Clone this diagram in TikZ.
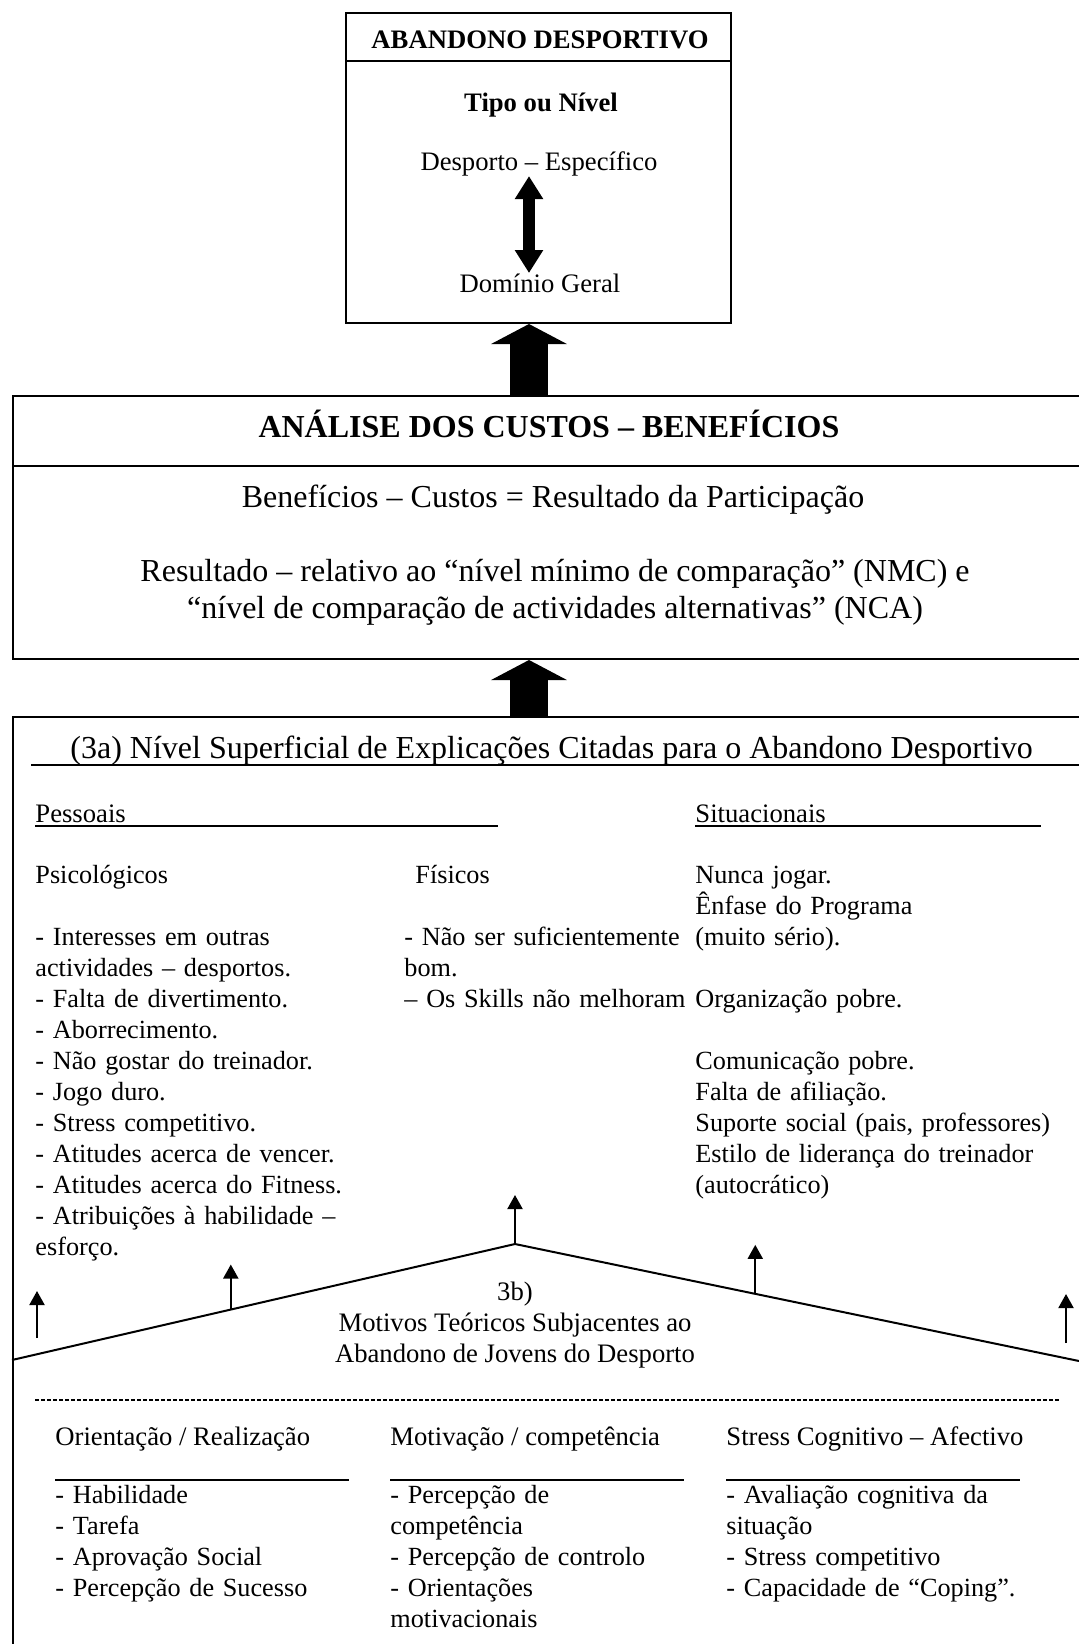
\documentclass[tikz,border=0pt]{standalone}
\usepackage{fontspec}
\setmainfont{Liberation Serif}
\usepackage{tikz}
\usetikzlibrary{arrows.meta,calc}

\tikzset{
  frame/.style={line width=0.9pt},
  rule/.style={line width=0.7pt},
  lbl/.style={inner sep=0pt,font=\fontsize{12}{13.95}\selectfont},
  lblb/.style={inner sep=0pt,font=\fontsize{12}{13.95}\selectfont\bfseries},
  big/.style={inner sep=0pt,font=\fontsize{14.4}{16.5}\selectfont},
  bigb/.style={inner sep=0pt,font=\fontsize{14.4}{16.5}\selectfont\bfseries},
  col/.style={inner sep=0pt,font=\fontsize{11.8}{13.95}\selectfont,anchor=base west,align=left,text width=300pt},
  fatarrow/.style={line width=17.1pt,-{Triangle[width=33.75pt,length=9pt]}},
  dblarrow/.style={line width=5.4pt,{Triangle[width=12.15pt,length=10.35pt]}-{Triangle[width=12.15pt,length=10.35pt]}},
  uparrow/.style={line width=0.9pt,-{Triangle[width=6.75pt,length=6.3pt]}},
}

\begin{document}
\begin{tikzpicture}[x=0.45pt,y=-0.45pt]
    \useasboundingbox (0,0) rectangle (1079,1644);
    \clip (0,0) rectangle (1079,1644);
    \coordinate (axis) at (529,0);
    % top box
    \node[draw,frame,minimum width=173.25pt,minimum height=139.5pt] (abandono) at (538.5,168) {};
    \draw[frame] (abandono.west |- 0,61) -- (abandono.east |- 0,61);
    \node[lblb,anchor=base] (titulo) at (540,49) {ABANDONO DESPORTIVO};
    \node[lblb,anchor=base] (tipo) at (541,111) {Tipo ou Nível};
    \node[lbl,anchor=base] (especifico) at (539,170) {Desporto – Específico};
    \node[lbl,anchor=base] (geral) at (540,292) {Domínio Geral};
    \draw[dblarrow] (axis |- especifico.south) -- (axis |- geral.north);
    % cost-benefit box
    \node[draw,frame,anchor=north west,minimum width=489.6pt,minimum height=118.35pt] (custos) at (12,395) {};
    \draw[frame] (custos.west |- 0,466) -- (custos.east |- 0,466);
    \draw[fatarrow] (axis |- custos.north) -- (axis |- abandono.south);
    \node[bigb,anchor=base] (analise) at (549,437) {ANÁLISE DOS CUSTOS – BENEFÍCIOS};
    \node[big,anchor=base] (formula) at (553,507) {Benefícios – Custos = Resultado da Participação};
    \node[big,anchor=base,align=center] (resultado) at (555,618) {Resultado – relativo ao “nível mínimo de comparação” (NMC) e\\“nível de comparação de actividades alternativas” (NCA)};
    % explanations box
    \node[draw,frame,anchor=north west,minimum width=489.6pt,minimum height=442.8pt] (explica) at (12,716) {};
    \draw[fatarrow] (axis |- explica.north) -- (axis |- custos.south);
    \node[big,anchor=base west] (nivel) at (70,758) {(3a) Nível Superficial de Explicações Citadas para o Abandono Desportivo};
    \draw[rule] (31,765) -- (explica.east |- 0,765);
    \node[lbl,anchor=base west] (pessoais) at (35,822) {Pessoais};
    \draw[rule] (pessoais.base west |- 0,826) -- (498,826);
    \node[lbl,anchor=base west] (situacionais) at (695,822) {Situacionais};
    \draw[rule] (situacionais.base west |- 0,826) -- (1041,826);
    % personal reasons
    \node[col] (psicologicos) at (35,883) {Psicológicos\\[13.95pt]
      - Interesses em outras\\actividades – desportos.\\- Falta de divertimento.\\- Aborrecimento.\\
      - Não gostar do treinador.\\- Jogo duro.\\- Stress competitivo.\\- Atitudes acerca de vencer.\\
      - Atitudes acerca do Fitness.\\- Atribuições à habilidade –\\esforço.};
    \node[col] (fisicos) at (415,883) {Físicos};
    \node[col] (fisicoslist) at (404,945) {- Não ser suficientemente\\bom.\\– Os Skills não melhoram};
    % situational reasons
    \node[col] (situacoes) at (695,883) {Nunca jogar.\\Ênfase do Programa\\(muito sério).\\[13.95pt]
      Organização pobre.\\[13.95pt]
      Comunicação pobre.\\Falta de afiliação.\\Suporte social (pais, professores)\\
      Estilo de liderança do treinador\\(autocrático)};
    % roof with arrows
    \coordinate (foot l) at (12,1360);
    \coordinate (peak) at (515,1244);
    \coordinate (foot r) at (1079,1361);
    \draw[frame] (foot l) -- (peak) -- (foot r);
    \coordinate (up l) at ($(foot l)!0.435!(peak)$);
    \coordinate (up r) at ($(peak)!0.426!(foot r)$);
    \draw[uparrow] (up l) -- ++(0,-45);
    \draw[uparrow] (peak) -- ++(0,-49);
    \draw[uparrow] (up r) -- ++(0,-49);
    \draw[uparrow] (37,1338) -- (37,1291);
    \draw[uparrow] (1066,1343) -- (1066,1294);
    \node[lbl,anchor=base,align=center] (motivos) at (515,1362) {3b)\\Motivos Teóricos Subjacentes ao\\Abandono de Jovens do Desporto};
    \draw[line width=0.5pt,dash pattern=on 1.8pt off 0.9pt] (35,1400) -- (1059,1400);
    % theoretical motives
    \node[lbl,anchor=base west] (orient) at (55,1445) {Orientação / Realização};
    \node[lbl,anchor=base west] (motiv) at (390,1445) {Motivação / competência};
    \node[lbl,anchor=base west] (stress) at (726,1445) {Stress Cognitivo – Afectivo};
    \draw[rule] (orient.west |- 0,1480) -- ++(294,0);
    \draw[rule] (motiv.west |- 0,1480) -- ++(294,0);
    \draw[rule] (stress.west |- 0,1480) -- ++(294,0);
    \node[col] (orientlist) at (55,1503) {- Habilidade\\- Tarefa\\- Aprovação Social\\- Percepção de Sucesso};
    \node[col] (motivlist) at (390,1503) {- Percepção de\\competência\\- Percepção de controlo\\- Orientações\\motivacionais};
    \node[col] (stresslist) at (726,1503) {- Avaliação cognitiva da\\situação\\- Stress competitivo\\- Capacidade de “Coping”.};
\end{tikzpicture}
\end{document}
